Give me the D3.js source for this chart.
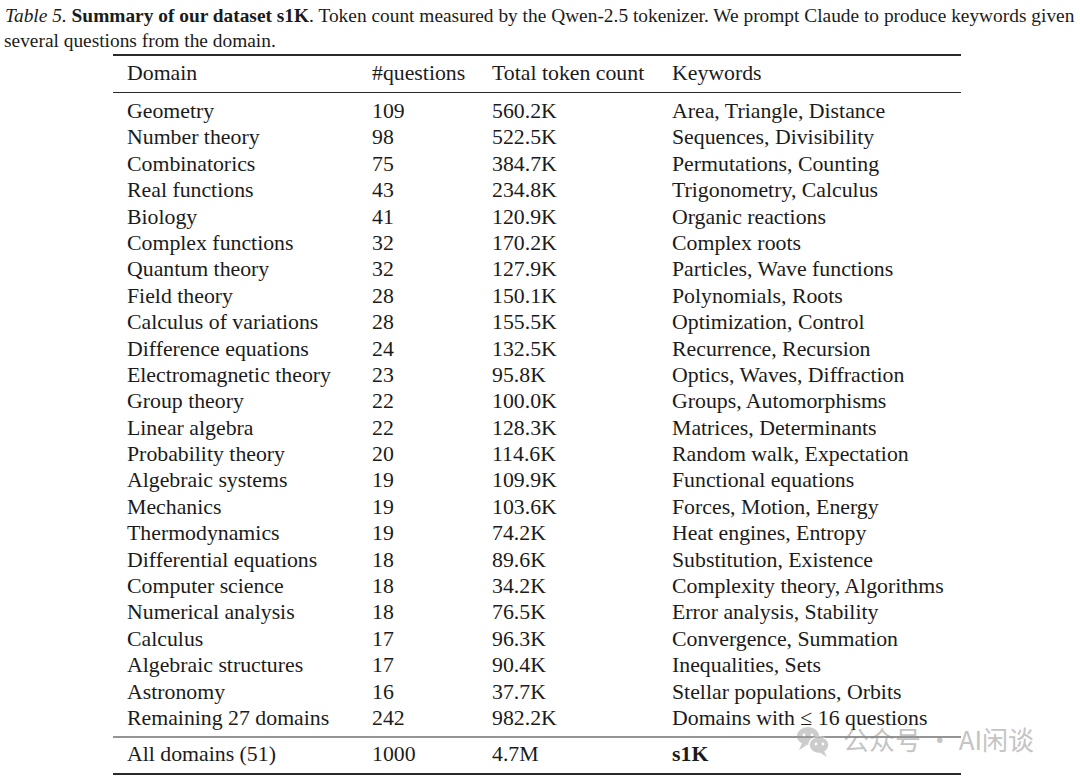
<!DOCTYPE html>
<html>
<head>
<meta charset="utf-8">
<script src="https://cdn.jsdelivr.net/npm/d3@7/dist/d3.min.js"></script>
<style>
  html, body { margin: 0; padding: 0; background: #ffffff; }
  svg { display: block; }
</style>
</head>
<body>
<svg id="chart" width="1080" height="779"></svg>
<script>
const headers = ["Domain", "#questions", "Total token count", "Keywords"];
const domains = ["Geometry", "Number theory", "Combinatorics", "Real functions", "Biology",
  "Complex functions", "Quantum theory", "Field theory", "Calculus of variations",
  "Difference equations", "Electromagnetic theory", "Group theory", "Linear algebra",
  "Probability theory", "Algebraic systems", "Mechanics", "Thermodynamics",
  "Differential equations", "Computer science", "Numerical analysis", "Calculus",
  "Algebraic structures", "Astronomy", "Remaining 27 domains"];
const questions = [109, 98, 75, 43, 41, 32, 32, 28, 28, 24, 23, 22, 22, 20, 19, 19, 19, 18, 18, 18, 17, 17, 16, 242];
const tokens = ["560.2K", "522.5K", "384.7K", "234.8K", "120.9K", "170.2K", "127.9K", "150.1K",
  "155.5K", "132.5K", "95.8K", "100.0K", "128.3K", "114.6K", "109.9K", "103.6K", "74.2K",
  "89.6K", "34.2K", "76.5K", "96.3K", "90.4K", "37.7K", "982.2K"];
const keywords = ["Area, Triangle, Distance", "Sequences, Divisibility", "Permutations, Counting",
  "Trigonometry, Calculus", "Organic reactions", "Complex roots", "Particles, Wave functions",
  "Polynomials, Roots", "Optimization, Control", "Recurrence, Recursion",
  "Optics, Waves, Diffraction", "Groups, Automorphisms", "Matrices, Determinants",
  "Random walk, Expectation", "Functional equations", "Forces, Motion, Energy",
  "Heat engines, Entropy", "Substitution, Existence", "Complexity theory, Algorithms",
  "Error analysis, Stability", "Convergence, Summation", "Inequalities, Sets",
  "Stellar populations, Orbits", "Domains with \u2264 16 questions"];
const totalRow = ["All domains (51)", "1000", "4.7M", "s1K"];
const captionParts = [
  {t: "Table 5. ", style: "italic", weight: "normal"},
  {t: "Summary of our dataset s1K", style: "normal", weight: "bold"},
  {t: ". Token count measured by the Qwen-2.5 tokenizer. We prompt Claude to produce keywords given", style: "normal", weight: "normal"}
];
const captionLine2 = "several questions from the domain.";

const svg = d3.select("#chart");
const serif = "'Liberation Serif', 'Times New Roman', serif";
const ink = "#1b1b1b";

function fitSize(sel, target) {
  const w = sel.node().getComputedTextLength();
  const fs = parseFloat(sel.attr("font-size"));
  sel.attr("font-size", fs * target / w);
}

const cap1 = svg.append("text").attr("x", 5).attr("y", 22)
  .attr("font-family", serif).attr("font-size", 18).attr("fill", ink);
cap1.selectAll("tspan").data(captionParts).join("tspan")
  .attr("font-style", d => d.style).attr("font-weight", d => d.weight)
  .text(d => d.t);
fitSize(cap1, 1070);
const capSize = parseFloat(cap1.attr("font-size"));
svg.append("text").attr("x", 4).attr("y", 47)
  .attr("font-family", serif).attr("font-size", capSize).attr("fill", ink)
  .text(captionLine2);

const colX = d3.scaleOrdinal().domain([0, 1, 2, 3]).range([127, 372, 492, 672]);
const rowY = d3.scaleLinear().domain([0, domains.length - 1]).range([111, 718]);
const lineX = [113, 961];

const probe = svg.append("text").attr("font-family", serif).attr("font-size", 20).text("Electromagnetic theory");
fitSize(probe, 204);
const fs = parseFloat(probe.attr("font-size"));
probe.remove();

const g = svg.append("g").attr("font-family", serif).attr("font-size", fs).attr("fill", ink);

g.selectAll("text.hdr").data(headers).join("text").attr("class", "hdr")
  .attr("x", (d, i) => colX(i)).attr("y", 73).attr("dy", "0.32em").text(d => d);

const rows = domains.map((d, i) => [d, String(questions[i]), tokens[i], keywords[i]]);
const rg = g.selectAll("g.row").data(rows).join("g").attr("class", "row")
  .attr("transform", (d, i) => `translate(0,${rowY(i)})`);
rg.selectAll("text").data(d => d).join("text")
  .attr("x", (d, i) => colX(i)).attr("dy", "0.32em").text(d => d);

g.selectAll("text.tot").data(totalRow).join("text").attr("class", "tot")
  .attr("x", (d, i) => colX(i)).attr("y", 754).attr("dy", "0.32em")
  .attr("font-weight", (d, i) => i === 3 ? "bold" : "normal").text(d => d);

const rules = [{y: 55, w: 1.8}, {y: 92.5, w: 1}, {y: 737, w: 1}, {y: 774, w: 1.8}];
svg.selectAll("line.rule").data(rules).join("line").attr("class", "rule")
  .attr("x1", lineX[0]).attr("x2", lineX[1]).attr("y1", d => d.y).attr("y2", d => d.y)
  .attr("stroke", "#2a2a2a").attr("stroke-width", d => d.w);

// Watermark
const wm = svg.append("g").attr("opacity", 0.5);
const ic = wm.append("g").attr("transform", "translate(808,740)").attr("fill", "#9a9a9a");
ic.append("ellipse").attr("cx", 0).attr("cy", -4).attr("rx", 11).attr("ry", 9);
ic.append("path").attr("d", "M-6,3 L-9,10 L-1,5 Z");
ic.append("ellipse").attr("cx", 11).attr("cy", 5).attr("rx", 10).attr("ry", 8.5).attr("stroke", "#fff").attr("stroke-width", 1.5);
ic.append("path").attr("d", "M16,11 L19,17 L11,12 Z");
ic.selectAll("circle.eye").data([[-4, -5], [4, -5], [8, 4], [15, 4]]).join("circle")
  .attr("cx", d => d[0]).attr("cy", d => d[1]).attr("r", 1.4).attr("fill", "#fff");
wm.append("text").attr("x", 843).attr("y", 741).attr("dy", "0.35em")
  .attr("font-family", "'Noto Sans CJK SC', sans-serif").attr("font-size", 26)
  .attr("fill", "#8a8a8a").text("\u516C\u4F17\u53F7 \u00B7 AI\u95F2\u8C08");
</script>
</body>
</html>
